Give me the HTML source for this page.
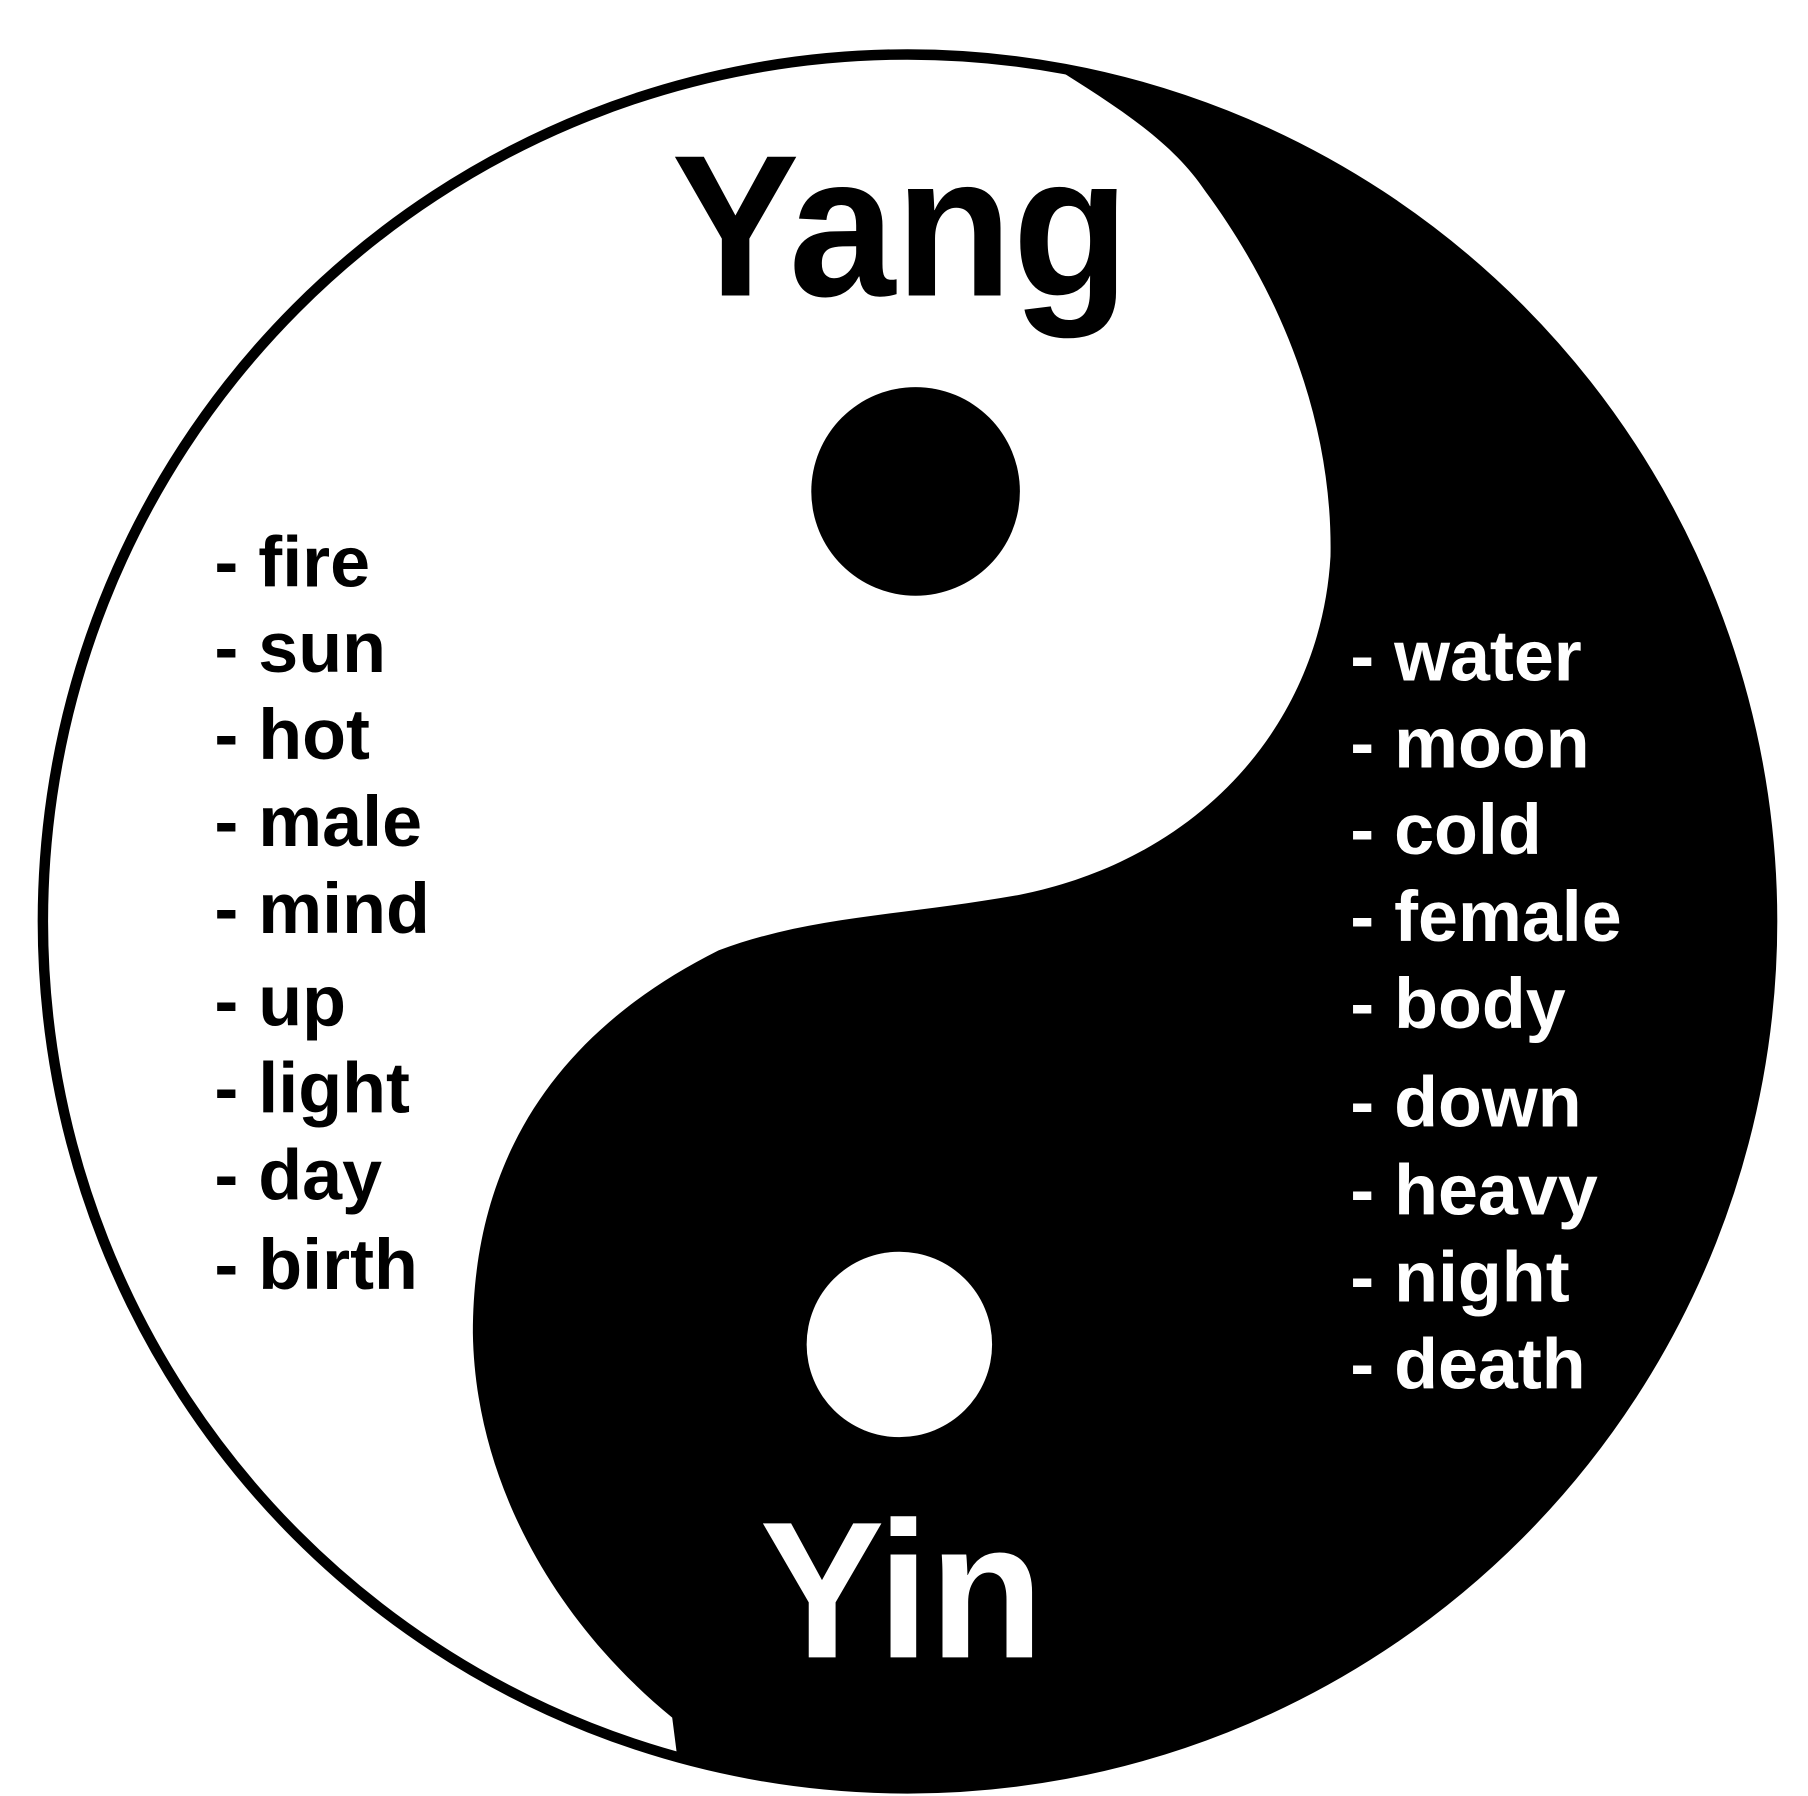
<!DOCTYPE html>
<html><head><meta charset="utf-8"><style>
html,body{margin:0;padding:0;background:#fff;}
svg{display:block;}
text{font-family:"Liberation Sans",Arial,sans-serif;font-weight:bold;}
</style></head><body>
<svg width="1808" height="1796" viewBox="0 0 1560 1549.6" preserveAspectRatio="none" xmlns="http://www.w3.org/2000/svg">
<defs><clipPath id="c"><ellipse cx="783" cy="795" rx="746" ry="748"/></clipPath></defs>
<rect width="1560" height="1550" fill="#fff"/>
<ellipse cx="783" cy="795" rx="746" ry="748" fill="#000"/>
<g clip-path="url(#c)">
<path d="M 900 0 L 905 55
 C 960 90 1010 120 1040 165
 C 1110 260 1150 370 1148 480
 C 1140 620 1040 740 880 772
 C 780 790 700 790 620 820
 C 480 890 408 1000 408 1150
 C 410 1280 480 1400 580 1482
 L 590 1560 L 0 1560 L 0 0 Z" fill="#fff"/>
</g>
<ellipse cx="783" cy="795" rx="746" ry="748" fill="none" stroke="#000" stroke-width="9"/>
<circle cx="790" cy="424" r="90" fill="#000"/>
<circle cx="776" cy="1160" r="80" fill="#fff"/>
<text x="777" y="255" font-size="174" text-anchor="middle" fill="#000" textLength="395" lengthAdjust="spacingAndGlyphs">Yang</text>
<text x="778" y="1430" font-size="168" text-anchor="middle" fill="#fff" textLength="245" lengthAdjust="spacingAndGlyphs">Yin</text>
<g font-size="62" fill="#000">
<text x="185" y="506">- fire</text>
<text x="185" y="580">- sun</text>
<text x="185" y="655">- hot</text>
<text x="185" y="730">- male</text>
<text x="185" y="805">- mind</text>
<text x="185" y="885">- up</text>
<text x="185" y="960">- light</text>
<text x="185" y="1035">- day</text>
<text x="185" y="1112">- birth</text>
</g>
<g font-size="62" fill="#fff">
<text x="1165" y="587">- water</text>
<text x="1165" y="662">- moon</text>
<text x="1165" y="737">- cold</text>
<text x="1165" y="812">- female</text>
<text x="1165" y="887">- body</text>
<text x="1165" y="972">- down</text>
<text x="1165" y="1048">- heavy</text>
<text x="1165" y="1123">- night</text>
<text x="1165" y="1198">- death</text>
</g>
</svg>
</body></html>
